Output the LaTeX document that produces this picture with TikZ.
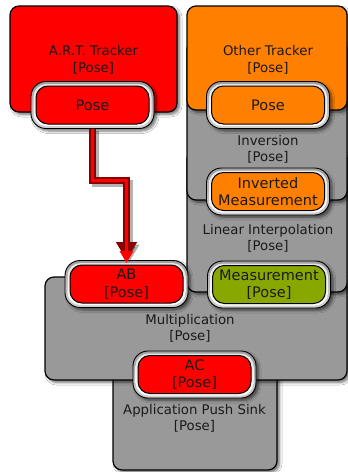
\documentclass[tikz,border=0pt]{standalone}
\usepackage{fontspec}
\setmainfont{DejaVu Sans}
\usetikzlibrary{shadows.blur,arrows.meta}
\definecolor{boxgray}{HTML}{999999}
\definecolor{trackred}{HTML}{FF0000}
\definecolor{trackorange}{HTML}{FF7F00}
\definecolor{measgreen}{HTML}{88A800}
\definecolor{inkdark}{HTML}{1A1A1A}
\definecolor{arrowdark}{HTML}{8A0000}
\begin{document}
\begin{tikzpicture}[x=1pt,y=-1pt,
  every node/.style={font=\fontsize{13.3}{16.5}\selectfont, text=inkdark,
    align=center, inner sep=0pt},
  softshadow/.style={blur shadow={shadow xshift=2.5pt, shadow yshift=-2.5pt,
    shadow blur steps=6, shadow blur radius=2.5pt, shadow opacity=55}},
  block/.style={draw=black, line width=1.2pt, rounded corners=9pt, softshadow},
  ring/.style={draw=black, line width=0.9pt, rounded corners=15pt,
    top color=gray!75, bottom color=gray!35, softshadow,
    minimum width=123pt, minimum height=47pt},
  ringlight/.style={rounded corners=13pt, top color=gray!20, bottom color=white,
    minimum width=118pt, minimum height=42pt},
  port/.style={draw=black, line width=1pt, rounded corners=12pt,
    minimum width=113pt, minimum height=38pt,
    font=\fontsize{14.5}{17}\selectfont},
  label/.style={text=inkdark}]
\useasboundingbox (0,0) rectangle (348,472);
\fill[white] (0,0) rectangle (348,472);

% component boxes, back to front
\node[block, fill=boxgray, minimum width=164pt, minimum height=140pt] (sink) at (195,400) {};
\node[block, fill=boxgray, minimum width=302pt, minimum height=103pt] (mult) at (196,328.5) {};
\node[block, fill=boxgray, minimum width=160pt, minimum height=142pt] (linint) at (267,221) {};
\node[block, fill=boxgray, minimum width=160pt, minimum height=160pt] (inv) at (267,120) {};
\node[block, fill=trackorange, minimum width=160pt, minimum height=104pt] (other) at (267,58) {};
\node[block, fill=trackred, minimum width=167pt, minimum height=106pt] (art) at (93.5,59) {};

% component titles
\node[label] (artlbl) at (93.5,60) {A.R.T. Tracker\\{}[Pose]};
\node[label] (otherlbl) at (268,60) {Other Tracker\\{}[Pose]};
\node[label] (invlbl) at (268,149.5) {Inversion\\{}[Pose]};
\node[label] (linlbl) at (268,238.5) {Linear Interpolation\\{}[Pose]};
\node[label] (multlbl) at (190,328.5) {Multiplication\\{}[Pose]};
\node[label] (sinklbl) at (194.5,418.5) {Application Push Sink\\{}[Pose]};

% ports: metal ring, light bevel, coloured port
\node[ring] (artring) at (92.5,105) {};
\node[ringlight] (artlight) at (92.5,105) {};
\node[port, fill=trackred] (artpose) at (92.5,105) {Pose};
\node[ring] (otherring) at (268,105) {};
\node[ringlight] (otherlight) at (268,105) {};
\node[port, fill=trackorange] (otherpose) at (268,105) {Pose};
\node[ring] (invring) at (268,191.5) {};
\node[ringlight] (invlight) at (268,191.5) {};
\node[port, fill=trackorange] (invmeas) at (268,191.5) {Inverted\\[0.5pt]Measurement};
\node[ring] (measring) at (269,284.5) {};
\node[ringlight] (measlight) at (269,284.5) {};
\node[port, fill=measgreen] (meas) at (269,284.5) {Measurement\\[0.5pt]{}[Pose]};
\node[ring] (abring) at (126.5,284) {};
\node[ringlight] (ablight) at (126.5,284) {};
\node[port, fill=trackred] (ab) at (126.5,284) {AB\\[0.5pt]{}[Pose]};
\node[ring] (acring) at (194.5,374.5) {};
\node[ringlight] (aclight) at (194.5,374.5) {};
\node[port, fill=trackred] (ac) at (194.5,374.5) {AC\\[0.5pt]{}[Pose]};

% edge from the tracker pose to AB
\draw[transform canvas={shift={(2.5pt,-2.5pt)}}, black, opacity=0.3, line width=7pt,
  -{Triangle[width=20pt,length=18pt]}]
  (artring.south) -- ++(0,52) -| (abring.north);
\draw[arrowdark, line width=7pt, -{Triangle[width=20pt,length=18pt]}]
  (artring.south) -- ++(0,52) -| (abring.north);
\draw[trackred, line width=3pt, -{Triangle[width=13pt,length=12pt]}]
  (artring.south) -- ++(0,52) -| ([yshift=-3pt]abring.north);
\end{tikzpicture}
\end{document}
